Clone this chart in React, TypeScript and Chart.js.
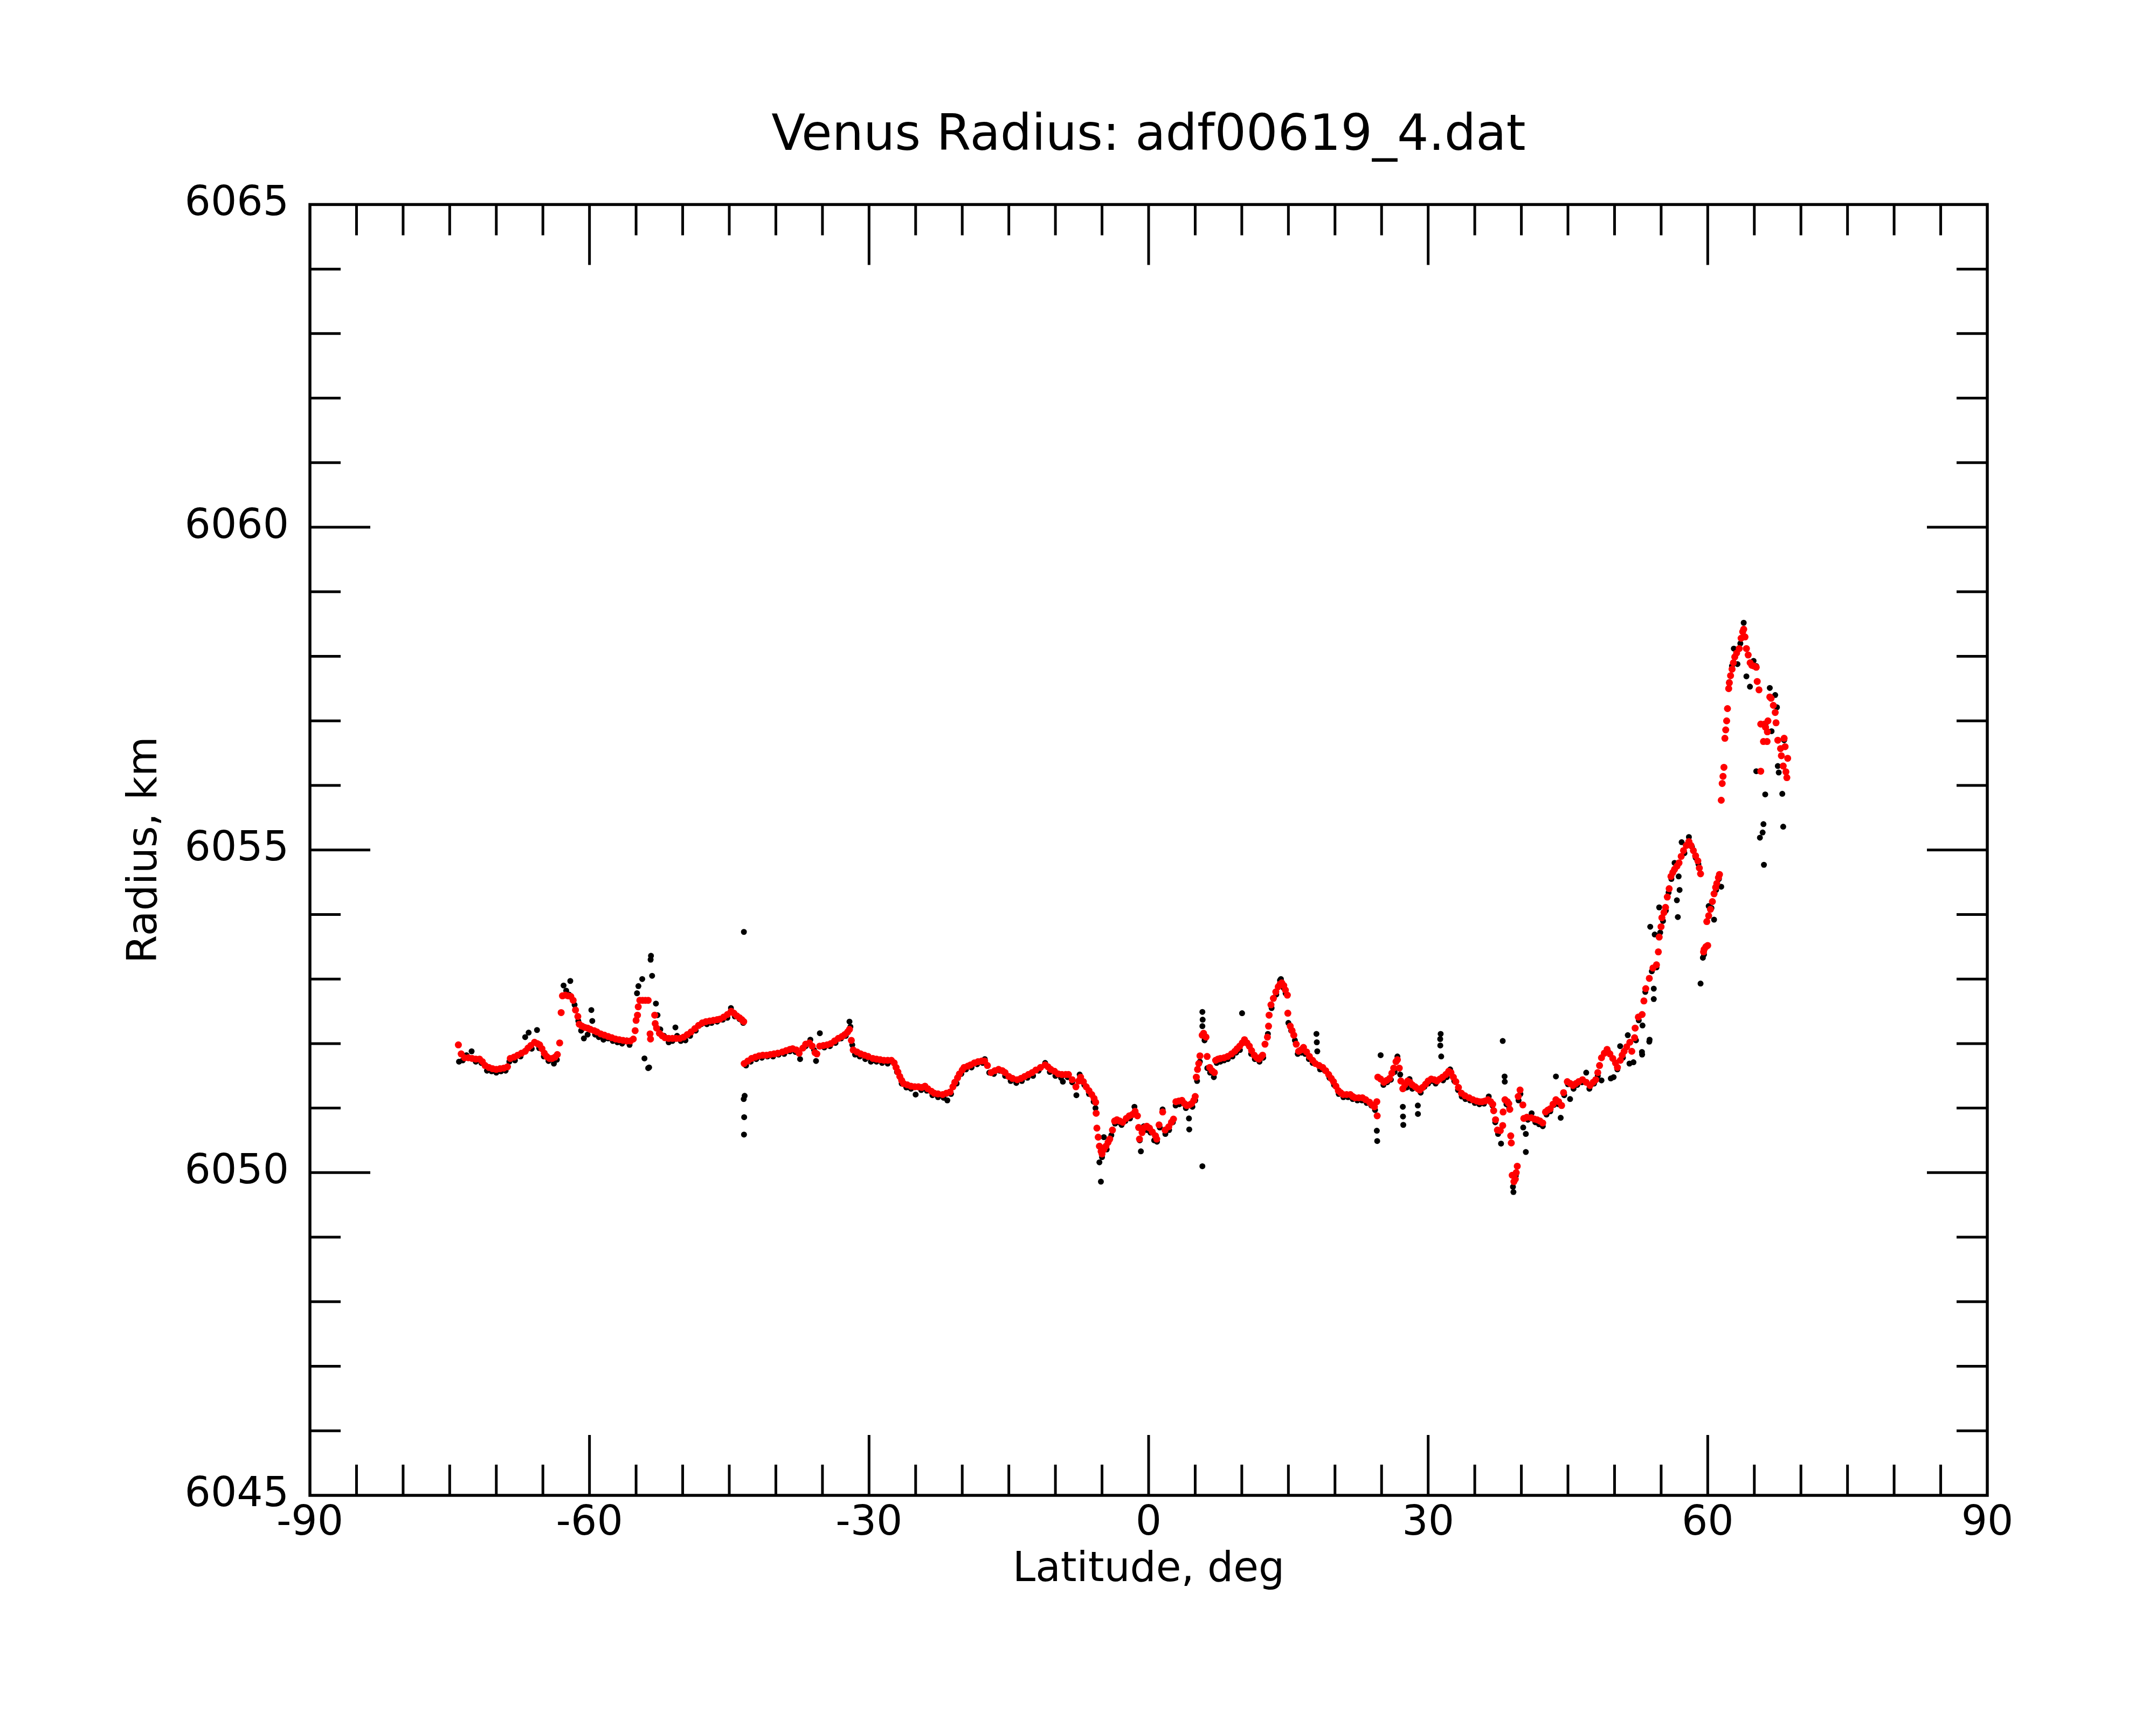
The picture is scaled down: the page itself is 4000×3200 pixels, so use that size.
import React, { useEffect, useRef } from 'react';
import { Chart, registerables } from 'chart.js';

Chart.register(...registerables);

const titleText = 'Venus Radius: adf00619_4.dat';
const xLabel = 'Latitude, deg';
const yLabel = 'Radius, km';
const xMin = -90;
const xMax = 90;
const xMajorStep = 30;
const xMinorStep = 5;
const yMin = 6045;
const yMax = 6065;
const yMajorStep = 5;
const yMinorStep = 1;
const fontFamily = '"DejaVu Sans", sans-serif';

// smoothed radius (red), [latitude, radius km]
const smoothed: [number, number][] = [
  [-74.07, 6051.98], [-73.77, 6051.84], [-73.4, 6051.78], [-73.0, 6051.78], [-72.6, 6051.77],
  [-72.2, 6051.76], [-71.8, 6051.76], [-71.5, 6051.72], [-71.2, 6051.66], [-70.8, 6051.63],
  [-70.4, 6051.61], [-70.0, 6051.6], [-69.6, 6051.61], [-69.2, 6051.62], [-68.8, 6051.64],
  [-68.5, 6051.77], [-68.1, 6051.79], [-67.7, 6051.82], [-67.3, 6051.85], [-66.9, 6051.88],
  [-66.6, 6051.93], [-66.3, 6051.97], [-65.9, 6052.02], [-65.6, 6052.0], [-65.35, 6051.98],
  [-65.1, 6051.92], [-64.85, 6051.85], [-64.6, 6051.8], [-64.3, 6051.77], [-64.0, 6051.77],
  [-63.7, 6051.79], [-63.45, 6051.83], [-63.2, 6052.01], [-63.04, 6052.48], [-62.9, 6052.74],
  [-62.6, 6052.75], [-62.3, 6052.74], [-62.0, 6052.73], [-61.75, 6052.67], [-61.5, 6052.52],
  [-61.25, 6052.42], [-61.1, 6052.3], [-60.8, 6052.27], [-60.5, 6052.25], [-60.2, 6052.24],
  [-59.9, 6052.22], [-59.5, 6052.2], [-59.2, 6052.18], [-58.8, 6052.15], [-58.4, 6052.13],
  [-58.0, 6052.11], [-57.6, 6052.09], [-57.2, 6052.07], [-56.8, 6052.06], [-56.4, 6052.05],
  [-56.0, 6052.04], [-55.6, 6052.04], [-55.3, 6052.07], [-55.1, 6052.2], [-55.0, 6052.36],
  [-54.85, 6052.44], [-54.77, 6052.57], [-54.6, 6052.67], [-54.3, 6052.67], [-54.0, 6052.67],
  [-53.7, 6052.67], [-53.5, 6052.15], [-53.45, 6052.07], [-53.0, 6052.44], [-52.95, 6052.31],
  [-52.8, 6052.24], [-52.5, 6052.16], [-52.2, 6052.12], [-51.9, 6052.09], [-51.5, 6052.08],
  [-51.1, 6052.08], [-50.7, 6052.08], [-50.3, 6052.08], [-49.9, 6052.1], [-49.5, 6052.14],
  [-49.1, 6052.18], [-48.7, 6052.23], [-48.3, 6052.28], [-47.9, 6052.32], [-47.5, 6052.34],
  [-47.1, 6052.35], [-46.7, 6052.36], [-46.3, 6052.37], [-46.0, 6052.38], [-45.6, 6052.41],
  [-45.2, 6052.45], [-44.8, 6052.5], [-44.5, 6052.47], [-44.2, 6052.43], [-43.9, 6052.4],
  [-43.65, 6052.37], [-43.45, 6052.34],
  [-43.4, 6051.69], [-43.0, 6051.73], [-42.6, 6051.77], [-42.2, 6051.79], [-41.8, 6051.81],
  [-41.4, 6051.82], [-41.0, 6051.82], [-40.6, 6051.83], [-40.2, 6051.84], [-39.8, 6051.85],
  [-39.3, 6051.87], [-38.9, 6051.89], [-38.5, 6051.91], [-38.2, 6051.92], [-37.8, 6051.9],
  [-37.5, 6051.85], [-37.1, 6051.93], [-36.8, 6051.99], [-36.4, 6052.01], [-36.1, 6051.96],
  [-35.8, 6051.86], [-35.6, 6051.84], [-35.3, 6051.96], [-34.9, 6051.97], [-34.5, 6051.98],
  [-34.1, 6052.0], [-33.7, 6052.04], [-33.3, 6052.08], [-32.9, 6052.11], [-32.6, 6052.14],
  [-32.3, 6052.18], [-32.1, 6052.22], [-31.9, 6052.05], [-31.7, 6051.9], [-31.3, 6051.87],
  [-30.9, 6051.84], [-30.5, 6051.82], [-30.1, 6051.8], [-29.6, 6051.77], [-29.2, 6051.76],
  [-28.8, 6051.75], [-28.4, 6051.74], [-28.0, 6051.74], [-27.6, 6051.74], [-27.3, 6051.7],
  [-27.1, 6051.63], [-26.9, 6051.56], [-26.7, 6051.49], [-26.5, 6051.43], [-26.3, 6051.38],
  [-25.9, 6051.36], [-25.5, 6051.34], [-25.1, 6051.33], [-24.7, 6051.33], [-24.35, 6051.32],
  [-24.0, 6051.34], [-23.7, 6051.3], [-23.3, 6051.26], [-23.0, 6051.23], [-22.6, 6051.22],
  [-22.1, 6051.21], [-21.7, 6051.23], [-21.3, 6051.25], [-21.0, 6051.33], [-20.8, 6051.4],
  [-20.5, 6051.47], [-20.3, 6051.53], [-20.0, 6051.59], [-19.8, 6051.63], [-19.4, 6051.65],
  [-19.1, 6051.67], [-18.7, 6051.7], [-18.3, 6051.72], [-17.9, 6051.73], [-17.6, 6051.73],
  [-17.3, 6051.66], [-16.9, 6051.55], [-16.5, 6051.58], [-16.1, 6051.6], [-15.7, 6051.58],
  [-15.4, 6051.55], [-15.0, 6051.49], [-14.6, 6051.46], [-14.1, 6051.44], [-13.7, 6051.46],
  [-13.3, 6051.49], [-12.9, 6051.52], [-12.5, 6051.55], [-12.1, 6051.59], [-11.6, 6051.63],
  [-11.1, 6051.67], [-10.8, 6051.64], [-10.5, 6051.6], [-10.1, 6051.57], [-9.7, 6051.53],
  [-9.3, 6051.52], [-8.9, 6051.52], [-8.6, 6051.52], [-8.2, 6051.44], [-7.8, 6051.33],
  [-7.5, 6051.42], [-7.3, 6051.48], [-7.0, 6051.41], [-6.7, 6051.33], [-6.4, 6051.27],
  [-6.1, 6051.21], [-5.85, 6051.15], [-5.68, 6051.09], [-5.63, 6050.92], [-5.55, 6050.69],
  [-5.41, 6050.55], [-5.28, 6050.41], [-5.1, 6050.33], [-5.0, 6050.29], [-4.8, 6050.36],
  [-4.58, 6050.41], [-4.35, 6050.47], [-4.17, 6050.52], [-3.88, 6050.66], [-3.65, 6050.8],
  [-3.4, 6050.82], [-3.1, 6050.8], [-2.78, 6050.78], [-2.4, 6050.84], [-2.08, 6050.88],
  [-1.75, 6050.9], [-1.45, 6050.95], [-1.2, 6050.88], [-1.07, 6050.7], [-0.98, 6050.52],
  [-0.7, 6050.62], [-0.45, 6050.7], [-0.2, 6050.72], [0.1, 6050.69], [0.4, 6050.63],
  [0.74, 6050.57], [0.87, 6050.52], [1.12, 6050.74], [1.51, 6050.94], [1.77, 6050.66],
  [2.16, 6050.71], [2.45, 6050.78], [2.67, 6050.83], [2.93, 6051.1], [3.25, 6051.11],
  [3.58, 6051.12], [3.85, 6051.07], [4.09, 6051.04], [4.35, 6051.05], [4.61, 6051.07],
  [4.85, 6051.12], [5.0, 6051.18], [5.12, 6051.48], [5.25, 6051.6], [5.38, 6051.69],
  [5.51, 6051.81], [5.75, 6052.13], [5.9, 6052.16], [6.16, 6052.1], [6.28, 6051.8],
  [6.55, 6051.63], [6.8, 6051.58], [7.06, 6051.55], [7.19, 6051.74], [7.45, 6051.76],
  [7.71, 6051.77], [8.1, 6051.78], [8.48, 6051.8], [8.9, 6051.84], [9.25, 6051.88],
  [9.5, 6051.92], [9.77, 6051.96], [10.05, 6052.01], [10.29, 6052.06], [10.55, 6052.01],
  [10.81, 6051.96], [11.05, 6051.89], [11.33, 6051.82], [11.6, 6051.78], [11.84, 6051.76],
  [12.05, 6051.79], [12.23, 6051.82], [12.49, 6051.99], [12.75, 6052.1], [12.87, 6052.27],
  [12.93, 6052.44], [13.13, 6052.6], [13.39, 6052.7], [13.65, 6052.8], [13.91, 6052.88],
  [14.1, 6052.92], [14.29, 6052.94], [14.5, 6052.9], [14.68, 6052.83], [14.89, 6052.75],
  [14.94, 6052.47], [15.2, 6052.27], [15.4, 6052.2], [15.58, 6052.13], [15.84, 6051.99],
  [16.1, 6051.88], [16.35, 6051.9], [16.62, 6051.94], [16.95, 6051.87], [17.26, 6051.8],
  [17.6, 6051.74], [17.9, 6051.69], [18.3, 6051.66], [18.68, 6051.63], [19.0, 6051.58],
  [19.32, 6051.52], [19.6, 6051.46], [19.84, 6051.41], [20.1, 6051.34], [20.36, 6051.27],
  [20.6, 6051.24], [20.88, 6051.21], [21.25, 6051.21], [21.65, 6051.21], [21.9, 6051.18],
  [22.16, 6051.16], [22.55, 6051.16], [22.94, 6051.16], [23.3, 6051.13], [23.71, 6051.09],
  [24.0, 6051.05], [24.23, 6051.02], [24.49, 6051.1], [24.53, 6050.88], [24.6, 6051.48],
  [24.9, 6051.45], [25.25, 6051.4], [25.55, 6051.43], [25.86, 6051.46], [26.1, 6051.54],
  [26.3, 6051.62], [26.55, 6051.72], [26.7, 6051.75], [26.9, 6051.62], [27.07, 6051.42],
  [27.28, 6051.3], [27.5, 6051.36], [27.8, 6051.42], [28.05, 6051.4], [28.3, 6051.36],
  [28.6, 6051.33], [28.9, 6051.3], [29.1, 6051.28], [29.4, 6051.32], [29.72, 6051.37],
  [30.0, 6051.42], [30.33, 6051.45], [30.64, 6051.44], [30.94, 6051.42], [31.25, 6051.45],
  [31.55, 6051.48], [31.9, 6051.52], [32.2, 6051.57], [32.45, 6051.55], [32.7, 6051.48],
  [32.97, 6051.41], [33.25, 6051.32], [33.57, 6051.23], [33.95, 6051.19], [34.39, 6051.16],
  [34.8, 6051.13], [35.2, 6051.11], [35.5, 6051.1], [35.81, 6051.1], [36.1, 6051.11],
  [36.42, 6051.13], [36.7, 6051.1], [36.93, 6051.06], [37.03, 6050.96], [37.23, 6050.82],
  [37.43, 6050.66], [37.74, 6050.65], [38.0, 6050.73], [38.04, 6050.94], [38.24, 6051.13],
  [38.5, 6051.1], [38.65, 6051.07], [38.76, 6050.98], [38.86, 6050.57], [38.92, 6050.46],
  [39.02, 6049.96], [39.2, 6049.86], [39.35, 6049.9], [39.45, 6050.0], [39.56, 6050.1],
  [39.66, 6051.18], [39.86, 6051.28], [40.16, 6051.05], [40.26, 6050.84], [40.6, 6050.86],
  [41.07, 6050.85], [41.4, 6050.83], [41.68, 6050.82], [42.0, 6050.8], [42.29, 6050.77],
  [42.59, 6050.94], [42.85, 6050.97], [43.1, 6050.99], [43.4, 6051.06], [43.71, 6051.13],
  [44.0, 6051.1], [44.32, 6051.04], [44.53, 6051.24], [44.93, 6051.41], [45.25, 6051.38],
  [45.54, 6051.35], [45.85, 6051.38], [46.15, 6051.41], [46.56, 6051.44], [46.96, 6051.4],
  [47.37, 6051.35], [47.7, 6051.4], [47.98, 6051.44], [48.2, 6051.55], [48.39, 6051.66],
  [48.6, 6051.78], [48.9, 6051.85], [49.2, 6051.91], [49.5, 6051.84], [49.81, 6051.77],
  [50.1, 6051.7], [50.31, 6051.63], [50.62, 6051.74], [50.82, 6051.82], [51.03, 6051.88],
  [51.3, 6051.95], [51.64, 6052.02], [51.85, 6051.88], [52.15, 6052.09], [52.21, 6052.24],
  [52.55, 6052.41], [52.96, 6052.45], [53.15, 6052.66], [53.35, 6052.85], [53.73, 6053.01],
  [54.12, 6053.17], [54.5, 6053.22], [54.7, 6053.42], [54.79, 6053.65], [54.99, 6053.81],
  [55.08, 6053.95], [55.3, 6054.03], [55.47, 6054.11], [55.66, 6054.27], [55.86, 6054.4],
  [56.05, 6054.59], [56.25, 6054.65], [56.44, 6054.7], [56.7, 6054.75], [56.92, 6054.8],
  [57.15, 6054.9], [57.4, 6054.99], [57.7, 6055.07], [57.98, 6055.13], [58.2, 6055.07],
  [58.46, 6054.99], [58.7, 6054.91], [58.94, 6054.83], [59.1, 6054.72], [59.23, 6054.63],
  [59.55, 6053.42], [59.62, 6053.46], [59.8, 6053.5], [60.0, 6053.52], [59.9, 6053.89],
  [60.1, 6053.98], [60.29, 6054.08], [60.5, 6054.2], [60.68, 6054.32], [60.85, 6054.42],
  [60.97, 6054.48], [61.15, 6054.57], [61.26, 6054.62],
  [61.45, 6055.77], [61.55, 6056.03], [61.64, 6056.14], [61.74, 6056.28], [61.84, 6056.73],
  [61.93, 6056.86], [62.03, 6057.0], [62.12, 6057.19], [62.25, 6057.5], [62.32, 6057.59],
  [62.45, 6057.7], [62.61, 6057.8], [62.75, 6057.9], [62.9, 6057.99], [63.1, 6058.05],
  [63.38, 6058.12], [63.58, 6058.28], [63.75, 6058.38], [63.86, 6058.42], [64.0, 6058.3],
  [64.15, 6058.12], [64.34, 6058.02], [64.55, 6057.9], [64.73, 6057.86], [64.95, 6057.85],
  [65.21, 6057.83], [65.31, 6057.61], [65.5, 6057.48], [65.69, 6056.95], [65.69, 6056.22],
  [65.98, 6056.68], [66.08, 6056.95], [66.2, 6056.9], [66.37, 6056.68], [66.4, 6056.83],
  [66.46, 6057.0], [66.66, 6057.37], [66.8, 6057.35], [67.04, 6057.24], [67.24, 6057.13],
  [67.33, 6056.97], [67.52, 6056.7], [67.81, 6056.57], [67.9, 6056.46], [68.1, 6056.3],
  [68.2, 6056.73], [68.3, 6056.6], [68.39, 6056.21], [68.49, 6056.12], [68.58, 6056.42],
];

// raw radius samples (black), [latitude, radius km]
const raw: [number, number][] = [
  [-74.0, 6051.72], [-73.6, 6051.74], [-73.2, 6051.82], [-72.65, 6051.88], [-72.2, 6051.72],
  [-71.6, 6051.7], [-71.0, 6051.58], [-70.5, 6051.57], [-70.0, 6051.55], [-69.5, 6051.57],
  [-69.0, 6051.58], [-68.6, 6051.72], [-68.0, 6051.74], [-67.4, 6051.8], [-66.9, 6052.1],
  [-66.53, 6052.17], [-66.2, 6051.92], [-65.63, 6052.21], [-65.4, 6051.93], [-64.9, 6051.8],
  [-64.4, 6051.73], [-63.82, 6051.69], [-63.5, 6051.75], [-62.78, 6052.9], [-62.5, 6052.82],
  [-62.06, 6052.97], [-62.2, 6052.76], [-61.6, 6052.6], [-61.2, 6052.35], [-60.9, 6052.2],
  [-60.6, 6052.08], [-60.2, 6052.14], [-59.8, 6052.52], [-59.7, 6052.35], [-59.4, 6052.14],
  [-59.0, 6052.1], [-58.5, 6052.06], [-58.0, 6052.08], [-57.5, 6052.04], [-57.0, 6052.02],
  [-56.5, 6052.0], [-56.0, 6052.05], [-55.7, 6051.98], [-54.9, 6052.78], [-54.75, 6052.89],
  [-54.34, 6053.0], [-54.1, 6051.77], [-53.7, 6051.62], [-53.6, 6051.63], [-53.44, 6053.3],
  [-53.4, 6053.36], [-53.28, 6053.05], [-52.87, 6052.62], [-52.7, 6052.44], [-52.4, 6052.22],
  [-52.0, 6052.12], [-51.5, 6052.02], [-51.1, 6052.04], [-50.78, 6052.25], [-50.6, 6052.12],
  [-50.2, 6052.04], [-49.7, 6052.05], [-49.2, 6052.12], [-48.6, 6052.2], [-48.0, 6052.3],
  [-47.4, 6052.3], [-46.9, 6052.32], [-46.3, 6052.34], [-45.7, 6052.37], [-45.2, 6052.4],
  [-44.82, 6052.55], [-44.4, 6052.42], [-43.9, 6052.38], [-43.5, 6052.32],
  [-43.43, 6053.73], [-43.35, 6051.19], [-43.45, 6051.14], [-43.4, 6050.86], [-43.42, 6050.59],
  [-43.2, 6051.66], [-42.7, 6051.72], [-42.1, 6051.76], [-41.5, 6051.78], [-40.9, 6051.8],
  [-40.3, 6051.8], [-39.7, 6051.83], [-39.1, 6051.84], [-38.5, 6051.88], [-37.9, 6051.87],
  [-37.4, 6051.76], [-36.8, 6051.96], [-36.3, 6052.06], [-35.9, 6051.9], [-35.69, 6051.73],
  [-35.28, 6052.16], [-34.8, 6051.94], [-34.2, 6051.96], [-33.6, 6052.01], [-33.0, 6052.08],
  [-32.5, 6052.12], [-32.1, 6052.34], [-32.0, 6052.26], [-31.8, 6051.98], [-31.5, 6051.83],
  [-31.0, 6051.8], [-30.4, 6051.76], [-29.8, 6051.72], [-29.2, 6051.72], [-28.6, 6051.7],
  [-28.0, 6051.69], [-27.5, 6051.72], [-27.0, 6051.56], [-26.5, 6051.38], [-26.0, 6051.32],
  [-25.5, 6051.3], [-25.0, 6051.21], [-24.4, 6051.28], [-23.8, 6051.27], [-23.2, 6051.2],
  [-22.6, 6051.17], [-22.0, 6051.16], [-21.6, 6051.12], [-21.2, 6051.22], [-20.6, 6051.38],
  [-20.1, 6051.53], [-19.6, 6051.6], [-19.0, 6051.63], [-18.4, 6051.68], [-17.8, 6051.7],
  [-17.58, 6051.76], [-17.1, 6051.55], [-16.6, 6051.53], [-16.0, 6051.58], [-15.4, 6051.5],
  [-14.8, 6051.42], [-14.2, 6051.39], [-13.6, 6051.42], [-13.0, 6051.47], [-12.4, 6051.5],
  [-11.8, 6051.58], [-11.1, 6051.7], [-10.6, 6051.56], [-10.0, 6051.5], [-9.4, 6051.47],
  [-9.2, 6051.41], [-8.7, 6051.48], [-8.2, 6051.4], [-7.75, 6051.2], [-7.4, 6051.52],
  [-6.9, 6051.36], [-6.4, 6051.22], [-5.9, 6051.1], [-5.7, 6051.0],
  [-5.28, 6050.16], [-5.12, 6049.86], [-5.0, 6050.24], [-4.8, 6050.55], [-4.5, 6050.36],
  [-4.0, 6050.58], [-3.6, 6050.76], [-3.2, 6050.78], [-2.9, 6050.74], [-2.5, 6050.8],
  [-2.0, 6050.84], [-1.52, 6051.02], [-1.3, 6050.9], [-0.95, 6050.5], [-0.83, 6050.33],
  [-0.5, 6050.72], [-0.2, 6050.66], [0.2, 6050.62], [0.6, 6050.5], [0.9, 6050.48],
  [1.2, 6050.7], [1.5, 6050.98], [1.8, 6050.6], [2.2, 6050.66], [2.6, 6050.78],
  [2.9, 6051.04], [3.3, 6051.06], [3.7, 6051.08], [4.0, 6051.0], [4.33, 6050.84],
  [4.36, 6050.67], [4.7, 6051.02], [5.0, 6051.12], [5.2, 6051.42], [5.5, 6051.72],
  [5.77, 6052.49], [5.8, 6052.37], [5.77, 6052.27], [5.77, 6050.1], [6.0, 6052.05],
  [6.3, 6051.62], [6.6, 6051.55], [7.0, 6051.48], [7.3, 6051.7], [7.7, 6051.72],
  [8.1, 6051.74], [8.5, 6051.76], [9.0, 6051.8], [9.4, 6051.86], [9.8, 6051.9],
  [10.03, 6052.47], [10.2, 6052.02], [10.6, 6052.0], [11.0, 6051.84], [11.4, 6051.76],
  [11.9, 6051.72], [12.3, 6051.78], [12.8, 6052.15], [13.2, 6052.55], [13.7, 6052.76],
  [14.1, 6052.98], [14.2, 6053.0], [14.5, 6052.86], [14.7, 6052.78], [15.0, 6052.32],
  [15.3, 6052.2], [15.7, 6052.05], [16.0, 6051.84], [16.4, 6051.86], [16.8, 6051.84],
  [17.2, 6051.76], [17.6, 6051.7], [18.01, 6052.15], [18.05, 6052.02], [18.1, 6051.88],
  [18.4, 6051.6], [18.9, 6051.58], [19.4, 6051.47], [19.9, 6051.36], [20.4, 6051.22],
  [20.9, 6051.17], [21.4, 6051.17], [21.9, 6051.14], [22.4, 6051.12], [22.9, 6051.12],
  [23.4, 6051.08], [23.9, 6051.04], [24.3, 6050.97], [24.49, 6050.65], [24.53, 6050.49],
  [24.8, 6051.46], [24.9, 6051.82], [25.2, 6051.36], [25.6, 6051.4], [26.0, 6051.44],
  [26.4, 6051.56], [26.7, 6051.8], [27.0, 6051.52], [27.28, 6051.02], [27.3, 6050.87],
  [27.33, 6050.74], [27.46, 6051.31], [27.7, 6051.32], [28.0, 6051.45], [28.3, 6051.3],
  [28.89, 6051.04], [28.9, 6050.91], [29.2, 6051.24], [29.6, 6051.33], [30.0, 6051.38],
  [30.4, 6051.42], [30.8, 6051.38], [31.29, 6052.07], [31.3, 6051.97], [31.34, 6052.15],
  [31.4, 6051.8], [31.6, 6051.43], [32.0, 6051.48], [32.36, 6051.6], [32.8, 6051.42],
  [33.2, 6051.28], [33.6, 6051.18], [34.0, 6051.14], [34.5, 6051.12], [35.0, 6051.08],
  [35.5, 6051.06], [36.0, 6051.07], [36.5, 6051.18], [36.9, 6051.04], [37.2, 6050.78],
  [37.5, 6050.6], [37.82, 6050.45], [38.0, 6052.04], [38.2, 6051.49], [38.22, 6051.41],
  [38.4, 6051.06], [38.7, 6051.0], [39.15, 6049.7], [39.1, 6049.78], [39.4, 6049.95],
  [39.7, 6051.12], [39.9, 6051.22], [40.2, 6050.7], [40.48, 6050.32], [40.48, 6050.6],
  [40.7, 6050.82], [41.1, 6050.92], [41.5, 6050.78], [41.9, 6050.75], [42.3, 6050.72],
  [42.7, 6050.9], [43.1, 6050.95], [43.5, 6051.05], [43.71, 6051.49], [44.0, 6051.06],
  [44.22, 6050.85], [44.6, 6051.2], [45.0, 6051.37], [45.23, 6051.14], [45.6, 6051.3],
  [46.0, 6051.36], [46.5, 6051.4], [46.96, 6051.55], [47.3, 6051.3], [47.8, 6051.38],
  [48.2, 6051.5], [48.6, 6051.43], [49.0, 6051.86], [49.3, 6051.88], [49.6, 6051.46],
  [49.9, 6051.48], [50.3, 6051.6], [50.6, 6051.96], [50.9, 6051.78], [51.42, 6052.13],
  [51.6, 6051.69], [52.03, 6051.71], [52.3, 6052.05], [52.6, 6052.36], [52.94, 6051.87],
  [52.96, 6051.83], [53.0, 6052.28], [53.3, 6052.8], [53.73, 6052.03], [53.76, 6052.06],
  [53.83, 6053.81], [54.0, 6053.12], [54.21, 6052.85], [54.21, 6052.69], [54.31, 6053.69],
  [54.5, 6053.18], [54.79, 6054.11], [54.9, 6053.72], [55.2, 6053.9], [55.5, 6054.06],
  [55.8, 6054.34], [56.1, 6054.55], [56.44, 6054.8], [56.69, 6054.22], [56.79, 6053.96],
  [56.88, 6054.59], [56.98, 6054.38], [57.2, 6055.12], [57.5, 6054.95], [57.98, 6055.2],
  [58.3, 6055.05], [58.7, 6054.88], [59.0, 6054.78], [59.23, 6052.93], [59.48, 6053.33],
  [59.6, 6053.38], [60.1, 6054.13], [60.4, 6054.1], [60.68, 6053.92], [60.9, 6054.38],
  [61.2, 6054.55], [61.45, 6054.43],
  [62.3, 6057.6], [62.6, 6057.85], [62.8, 6058.12], [63.19, 6057.88], [63.5, 6058.2],
  [63.86, 6058.52], [64.15, 6057.69], [64.53, 6057.53], [64.92, 6057.93], [65.2, 6057.85],
  [65.21, 6056.22], [65.6, 6055.19], [65.89, 6055.27], [65.98, 6055.4], [66.03, 6054.77],
  [66.17, 6055.86], [66.2, 6056.95], [66.66, 6057.51], [66.85, 6056.84], [67.24, 6057.4],
  [67.43, 6057.21], [67.52, 6056.3], [67.62, 6056.2], [68.0, 6055.87], [68.1, 6055.36],
  [68.2, 6056.7],
];

// inward ticks on all four sides plus the frame, positioned through the scales
const framePlugin = {
  id: 'frame',
  afterDatasetsDraw(chart: any) {
    const { ctx, chartArea: a, scales } = chart;
    const xs = scales.x;
    const ys = scales.y;
    ctx.save();
    ctx.strokeStyle = '#000';
    ctx.lineWidth = 5;
    ctx.beginPath();
    for (let v = xMin + xMinorStep; v < xMax; v += xMinorStep) {
      const px = xs.getPixelForValue(v);
      const len = v % xMajorStep === 0 ? 112 : 57;
      ctx.moveTo(px, a.bottom);
      ctx.lineTo(px, a.bottom - len);
      ctx.moveTo(px, a.top);
      ctx.lineTo(px, a.top + len);
    }
    for (let v = yMin + yMinorStep; v < yMax; v += yMinorStep) {
      const py = ys.getPixelForValue(v);
      const len = (v - yMin) % yMajorStep === 0 ? 112 : 57;
      ctx.moveTo(a.left, py);
      ctx.lineTo(a.left + len, py);
      ctx.moveTo(a.right, py);
      ctx.lineTo(a.right - len, py);
    }
    ctx.stroke();
    ctx.lineWidth = 5.5;
    ctx.strokeRect(a.left, a.top, a.right - a.left, a.bottom - a.top);
    ctx.restore();
  },
};

const VenusChart: React.FC = () => {
  const canvasRef = useRef<HTMLCanvasElement | null>(null);
  const chartRef = useRef<Chart | null>(null);

  useEffect(() => {
    if (!canvasRef.current) return;
    if (chartRef.current) chartRef.current.destroy();

    const tickFont = { family: fontFamily, size: 76, weight: 'normal' as const };

    chartRef.current = new Chart(canvasRef.current, {
      type: 'scatter',
      data: {
        datasets: [
          {
            label: 'smoothed',
            data: smoothed.map(([x, y]) => ({ x, y })),
            backgroundColor: '#ff0000',
            pointRadius: 6.5,
            pointBorderWidth: 0,
            pointHoverRadius: 6.5,
            order: 0,
          },
          {
            label: 'raw',
            data: raw.map(([x, y]) => ({ x, y })),
            backgroundColor: '#000000',
            pointRadius: 5.5,
            pointBorderWidth: 0,
            pointHoverRadius: 5.5,
            order: 1,
          },
        ],
      },
      options: {
        animation: false,
        responsive: false,
        devicePixelRatio: 1,
        events: [],
        layout: { padding: { left: 0, right: 313, top: 0, bottom: 0 } },
        plugins: {
          legend: { display: false },
          tooltip: { enabled: false },
          title: {
            display: true,
            fullSize: false,
            text: titleText,
            color: '#000',
            font: { family: fontFamily, size: 92, weight: 'normal' },
            padding: { top: 199, bottom: 70 },
          },
        },
        scales: {
          x: {
            type: 'linear',
            min: xMin,
            max: xMax,
            grid: { display: false, drawTicks: false },
            border: { display: false },
            ticks: {
              stepSize: xMajorStep,
              padding: 8,
              color: '#000',
              font: tickFont,
              maxRotation: 0,
              autoSkip: false,
              callback: (v: any) => String(v),
            },
            title: {
              display: true,
              text: xLabel,
              color: '#000',
              font: tickFont,
              padding: { top: 0, bottom: 241 },
            },
            afterFit: (s: any) => {
              s.height = 426;
            },
          },
          y: {
            type: 'linear',
            min: yMin,
            max: yMax,
            grid: { display: false, drawTicks: false },
            border: { display: false },
            ticks: {
              stepSize: yMajorStep,
              padding: 39,
              color: '#000',
              font: tickFont,
              autoSkip: false,
              callback: (v: any) => String(v),
            },
            title: {
              display: true,
              text: yLabel,
              color: '#000',
              font: tickFont,
              padding: { top: 225, bottom: 0 },
            },
            afterFit: (s: any) => {
              s.width = 575;
            },
          },
        },
      },
      plugins: [framePlugin],
    });

    return () => {
      if (chartRef.current) {
        chartRef.current.destroy();
        chartRef.current = null;
      }
    };
  }, []);

  return <canvas ref={canvasRef} width={4000} height={3200} style={{ display: 'block' }} />;
};

export default function App() {
  return (
    <div style={{ position: 'absolute', left: 0, top: 0, width: 4000, height: 3200, background: '#fff' }}>
      <VenusChart />
    </div>
  );
}
